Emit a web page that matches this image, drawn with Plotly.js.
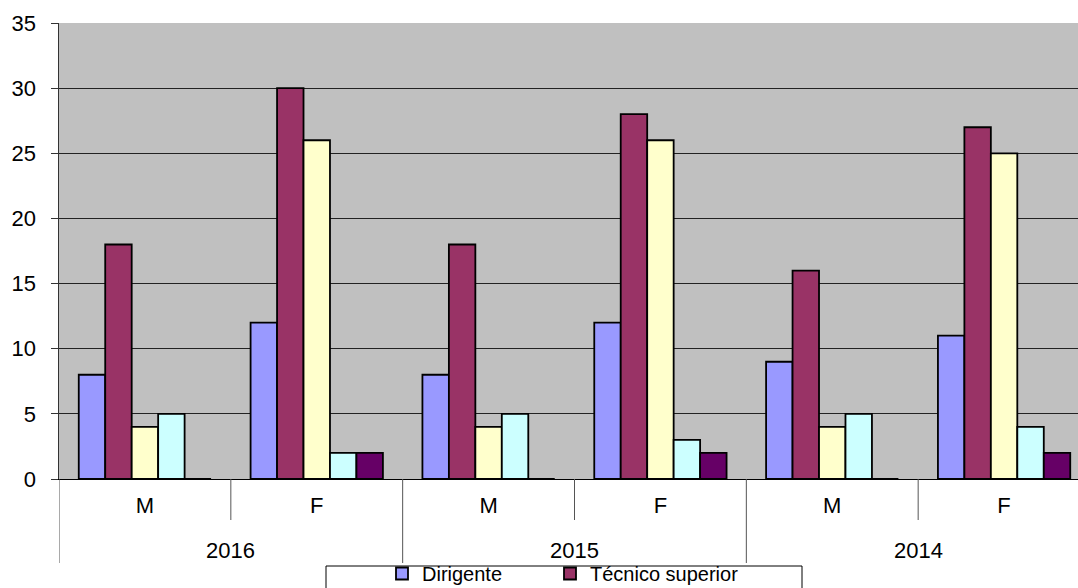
<!DOCTYPE html>
<html><head><meta charset="utf-8">
<script src="https://cdn.plot.ly/plotly-3.0.1.min.js"></script>
<style>html,body{margin:0;padding:0;overflow:hidden;background:#fff}#chart{width:1100px;height:620px}</style>
</head><body><div id="chart"></div>
<script>
const years = ['2016','2016','2015','2015','2014','2014'];
const sexes = ['M','F','M','F','M','F'];
const seriesNames = ['Dirigente','Técnico superior','Série 3','Série 4','Série 5'];
const dirigente = [8, 12, 8, 12, 9, 11];
const tecnicoSuperior = [18, 30, 18, 28, 16, 27];
const serie3 = [4, 26, 4, 26, 4, 25];
const serie4 = [5, 2, 5, 3, 5, 4];
const serie5 = [0, 2, 0, 2, 0, 2];
const colors = ['#9999ff','#993366','#ffffcc','#ccffff','#660066'];
const allValues = [dirigente, tecnicoSuperior, serie3, serie4, serie5];

const cats = years.map((y, i) => y + ' ' + sexes[i]);
const legendIds = ['legend', 'legend2'];

const traces = allValues.map((vals, i) => ({
  type: 'bar',
  name: seriesNames[i],
  x: cats,
  y: vals,
  marker: {color: colors[i], line: {color: '#000', width: 1.8}},
  showlegend: i < 2,
  legend: i < 2 ? legendIds[i] : 'legend',
  hoverinfo: 'none'
}));

// plot area: left 59, top 23, bottom 479 (height 456), width 1031
const H = 456, W = 1031;
const py = p => (479 - p) / H;   // pixel y -> paper y
const pxp = p => (p - 59) / W;   // pixel x -> paper x
const shapes = [];
const annotations = [];
// inner boundaries (between M and F)
for (let i = 0; i < cats.length; i += 2) {
  shapes.push({type: 'line', xref: 'x', yref: 'paper', x0: i + 0.5, x1: i + 0.5, y0: 0, y1: py(520),
    line: {color: '#555', width: 1}});
}
// outer dividers (between years)
for (let i = 0; i <= cats.length; i += 2) {
  shapes.push({type: 'line', xref: 'x', yref: 'paper', x0: i - 0.5, x1: i - 0.5, y0: 0, y1: py(563),
    line: {color: '#555', width: 1}});
}
// year labels
for (let i = 0; i < cats.length; i += 2) {
  annotations.push({xref: 'x', yref: 'paper', x: i + 0.5, y: py(550), text: years[i], showarrow: false,
    xanchor: 'center', yanchor: 'middle', font: {size: 22, color: '#000'}});
}
// legend frame
shapes.push({type: 'rect', xref: 'paper', yref: 'paper', x0: pxp(326), x1: pxp(802),
  y0: py(566), y1: py(615), line: {color: '#000', width: 1}, fillcolor: 'rgba(0,0,0,0)'});

const legendBase = {
  orientation: 'h', xanchor: 'left', yanchor: 'top',
  y: py(554), borderwidth: 0, bgcolor: 'rgba(0,0,0,0)',
  itemwidth: 30, font: {size: 20}
};

const layout = {
  width: 1100, height: 620,
  margin: {l: 59, r: 10, t: 23, b: 141},
  paper_bgcolor: '#fff',
  plot_bgcolor: '#c0c0c0',
  font: {family: 'Liberation Sans, Arial, sans-serif', size: 20, color: '#000'},
  barmode: 'group',
  bargap: 0.23,
  bargroupgap: 0,
  xaxis: {
    type: 'category',
    tickvals: cats, ticktext: sexes,
    range: [-0.5, 5.5],
    showline: true, linecolor: '#000', linewidth: 1,
    ticks: '', ticklabelstandoff: 7,
    tickfont: {size: 22},
    showgrid: false, automargin: false
  },
  yaxis: {
    range: [0, 35], dtick: 5,
    showline: true, linecolor: '#333', linewidth: 1.5,
    ticks: 'outside', ticklen: 7, tickcolor: '#333',
    ticklabelstandoff: 10,
    gridcolor: '#222', gridwidth: 1,
    tickfont: {size: 22},
    zeroline: false, automargin: false
  },
  shapes: shapes,
  annotations: annotations,
  legend: Object.assign({}, legendBase, {x: pxp(382)}),
  legend2: Object.assign({}, legendBase, {x: pxp(550)})
};
Plotly.newPlot('chart', traces, layout, {displayModeBar: false, staticPlot: true});
</script></body></html>
